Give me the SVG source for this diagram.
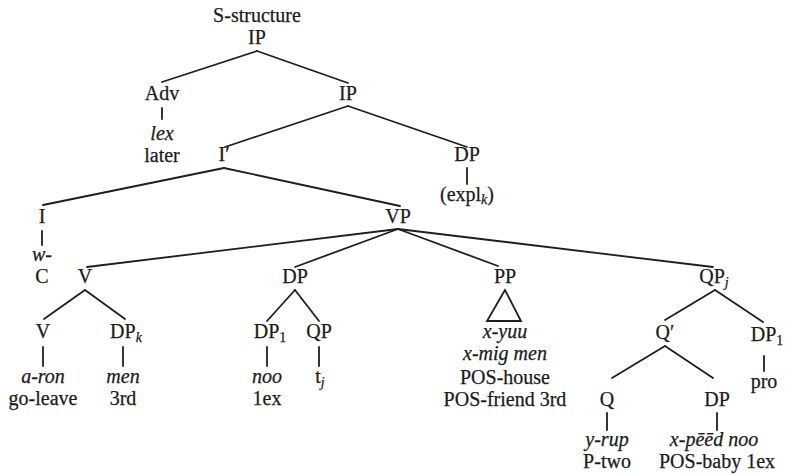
<svg xmlns="http://www.w3.org/2000/svg" width="785" height="474" viewBox="0 0 785 474">
  <style>
    text { font-family: "Liberation Serif", "DejaVu Serif", "Times New Roman", serif; font-size: 20px; fill: #1b1b1b; stroke: #1b1b1b; stroke-width: 0.25; text-anchor: middle; }
    .it { font-style: italic; }
    .sub { font-size: 14px; font-style: italic; }
    .subr { font-size: 14px; }
    #edges line, #edges polygon { stroke: #1e1e1e; stroke-width: 1.8; fill: none; stroke-linecap: round; }
  </style>
  <rect width="785" height="474" fill="#ffffff"/>

  <!-- branches -->
  <g id="edges">
    <line x1="257" y1="51" x2="162" y2="82"/>
    <line x1="257" y1="51" x2="348" y2="83"/>
    <line x1="162" y1="108" x2="162" y2="119"/>
    <line x1="348" y1="106" x2="225" y2="147"/>
    <line x1="348" y1="106" x2="467" y2="147"/>
    <line x1="467" y1="168" x2="467" y2="184"/>
    <line x1="224" y1="168" x2="43" y2="205"/>
    <line x1="224" y1="168" x2="400" y2="206"/>
    <line x1="42" y1="231" x2="42" y2="245"/>
    <line x1="398" y1="229" x2="87" y2="267"/>
    <line x1="398" y1="229" x2="295" y2="267"/>
    <line x1="398" y1="229" x2="498" y2="266"/>
    <line x1="398" y1="229" x2="713" y2="267"/>
    <line x1="85" y1="290" x2="44" y2="319"/>
    <line x1="85" y1="290" x2="125" y2="319"/>
    <line x1="295" y1="290" x2="267" y2="321"/>
    <line x1="295" y1="290" x2="319" y2="321"/>
    <polygon points="505,290 487,321 521,321"/>
    <line x1="715" y1="290" x2="665" y2="320"/>
    <line x1="715" y1="290" x2="763" y2="322"/>
    <line x1="43" y1="347" x2="43" y2="366"/>
    <line x1="123" y1="347" x2="123" y2="366"/>
    <line x1="267" y1="347" x2="267" y2="366"/>
    <line x1="319" y1="347" x2="319" y2="366"/>
    <line x1="764" y1="356" x2="764" y2="371"/>
    <line x1="665" y1="346" x2="612" y2="378"/>
    <line x1="665" y1="346" x2="713" y2="378"/>
    <line x1="607" y1="413" x2="607" y2="430"/>
    <line x1="717" y1="413" x2="717" y2="430"/>
  </g>

  <g id="title"><text x="257" y="22">S-structure</text></g>
  <g id="ip-root"><text x="257" y="44">IP</text></g>

  <g id="adv">
    <text x="162" y="100">Adv</text>
    <text class="it" x="162" y="140">lex</text>
    <text x="162" y="162">later</text>
  </g>
  <g id="ip"><text x="348" y="100">IP</text></g>
  <g id="i-bar"><text x="224" y="161">I′</text></g>
  <g id="dp-expl">
    <text x="467" y="161">DP</text>
    <text x="467" y="201">(expl<tspan class="sub" dy="3">k</tspan><tspan dy="-3">)</tspan></text>
  </g>

  <g id="i">
    <text x="42" y="223">I</text>
    <text class="it" x="42" y="261">w-</text>
    <text x="42" y="283">C</text>
  </g>
  <g id="vp"><text x="398" y="223">VP</text></g>

  <g id="v"><text x="85" y="283">V</text></g>
  <g id="dp"><text x="295" y="283">DP</text></g>
  <g id="pp">
    <text x="505" y="283">PP</text>
    <text class="it" x="505" y="338">x-yuu</text>
    <text class="it" x="505" y="360">x-mig men</text>
    <text x="505" y="384">POS-house</text>
    <text x="505" y="406">POS-friend 3rd</text>
  </g>
  <g id="qp-j"><text x="714" y="283">QP<tspan class="sub" dy="4">j</tspan></text></g>

  <g id="v-lex">
    <text x="43" y="338">V</text>
    <text class="it" x="43" y="383">a-ron</text>
    <text x="43" y="405">go-leave</text>
  </g>
  <g id="dp-k">
    <text x="126" y="338">DP<tspan class="sub" dy="4">k</tspan></text>
    <text class="it" x="123" y="383">men</text>
    <text x="123" y="405">3rd</text>
  </g>
  <g id="dp-1">
    <text x="270" y="338">DP<tspan class="subr" dy="4">1</tspan></text>
    <text class="it" x="267" y="383">noo</text>
    <text x="267" y="405">1ex</text>
  </g>
  <g id="qp">
    <text x="319" y="338">QP</text>
    <text x="320" y="383">t<tspan class="sub" dy="4">j</tspan></text>
  </g>

  <g id="q-bar"><text x="665" y="339">Q′</text></g>
  <g id="dp-pro">
    <text x="767" y="341">DP<tspan class="subr" dy="4">1</tspan></text>
    <text x="764" y="388">pro</text>
  </g>

  <g id="q">
    <text x="607" y="406">Q</text>
    <text class="it" x="607" y="446">y-rup</text>
    <text x="607" y="468">P-two</text>
  </g>
  <g id="dp-baby">
    <text x="717" y="406">DP</text>
    <text class="it" x="714" y="446">x-pēēd noo</text>
    <text x="717" y="468">POS-baby 1ex</text>
  </g>
</svg>
